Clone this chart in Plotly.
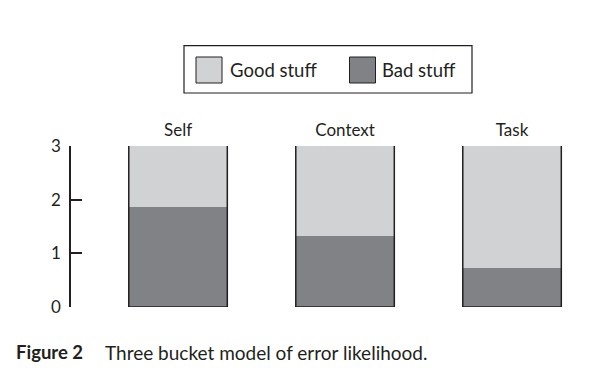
import plotly.graph_objects as go

categories = ["Self", "Context", "Task"]
bad_stuff = [1.86, 1.32, 0.73]
good_stuff = [1.14, 1.68, 2.27]
y_ticks = [0, 1, 2, 3]
series_names = ["Good stuff", "Bad stuff"]

GOOD = "#d1d2d4"
BAD = "#808285"
INK = "#231f20"
FONT = "Lato"
BW = 0.59

xs = list(range(len(categories)))
fig = go.Figure()
fig.add_trace(go.Bar(x=xs, y=bad_stuff, name=series_names[1], marker=dict(color=BAD, line=dict(width=0)), width=BW))
fig.add_trace(go.Bar(x=xs, y=good_stuff, name=series_names[0], marker=dict(color=GOOD, line=dict(width=0)), width=BW))

# bucket outlines (open top) from the data
ox, oy = [], []
for i, (b, g) in enumerate(zip(bad_stuff, good_stuff)):
    cap = b + g
    ox += [i - BW / 2, i - BW / 2, i + BW / 2, i + BW / 2, None]
    oy += [cap, 0, 0, cap, None]
fig.add_trace(go.Scatter(x=ox, y=oy, mode="lines", line=dict(color=INK, width=1.5), hoverinfo="skip", showlegend=False))

L, R, T, B = 71, 19, 146, 83
W, H = 599, 390
pw, ph = W - L - R, H - T - B

def px(x):
    return (x - L) / pw

def py(y):
    return (T + ph - y) / ph

fig.update_layout(
    width=W, height=H, barmode="stack", showlegend=False,
    margin=dict(l=L, r=R, t=T, b=B),
    paper_bgcolor="white", plot_bgcolor="white",
    font=dict(family=FONT, color=INK),
    xaxis=dict(range=[-0.641, -0.641 + pw / 167], side="top", tickvals=xs, ticktext=categories,
               showgrid=False, zeroline=False, showline=False, ticks="",
               tickfont=dict(size=17, color=INK, family=FONT), ticklabelstandoff=6),
    yaxis=dict(range=[0, 3], tickvals=y_ticks, showgrid=False, zeroline=False,
               showline=True, linecolor=INK, linewidth=1.5, ticks="inside", ticklen=11,
               tickwidth=1.5, tickcolor=INK, tickfont=dict(size=17, color=INK, family=FONT),
               ticklabelstandoff=5),
)

shapes = [
    dict(type="rect", xref="paper", yref="paper", x0=px(184), x1=px(472), y0=py(93), y1=py(45.7),
         line=dict(color=INK, width=1.2), fillcolor="white", layer="below"),
    dict(type="rect", xref="paper", yref="paper", x0=px(196), x1=px(222), y0=py(83), y1=py(57),
         line=dict(color=INK, width=1), fillcolor=GOOD),
    dict(type="rect", xref="paper", yref="paper", x0=px(349.5), x1=px(375.5), y0=py(83), y1=py(57),
         line=dict(color=INK, width=1), fillcolor=BAD),
]
fig.update_layout(shapes=shapes)

ann = [
    dict(text=series_names[0], x=px(228), y=py(70), xanchor="left", yanchor="middle", font=dict(size=18.5)),
    dict(text=series_names[1], x=px(380), y=py(70), xanchor="left", yanchor="middle", font=dict(size=18.5)),
    dict(text="<b>Figure 2</b>", x=px(14), y=py(352), xanchor="left", yanchor="middle", font=dict(size=18.5)),
    dict(text="Three bucket model of error likelihood.", x=px(103), y=py(352), xanchor="left", yanchor="middle", font=dict(size=19)),
]
for a in ann:
    a.update(xref="paper", yref="paper", showarrow=False)
fig.update_layout(annotations=ann)

fig.write_html("out.html")
